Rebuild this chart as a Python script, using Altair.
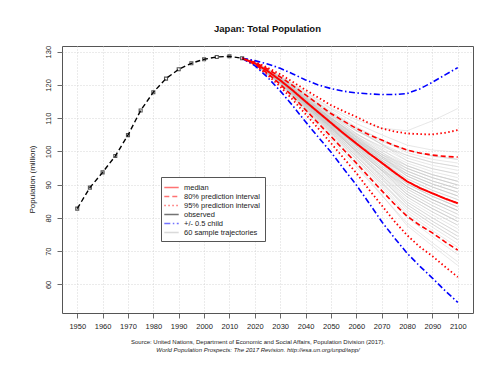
import altair as alt
import pandas as pd

FONT = "Liberation Sans"

# ---------------- data ----------------
obs_years = [1950, 1955, 1960, 1965, 1970, 1975, 1980, 1985, 1990, 1995, 2000, 2005, 2010, 2015]
observed = [82.8, 89.1, 93.7, 98.6, 104.9, 112.3, 117.8, 121.9, 124.7, 126.5, 127.7, 128.4, 128.6, 128.0]

proj_years = [2015, 2020, 2025, 2030, 2035, 2040, 2045, 2050, 2055, 2060,
              2065, 2070, 2075, 2080, 2085, 2090, 2095, 2100]
median = [128.0, 126.5, 124.2, 121.4, 118.3, 115.0, 111.8, 108.6, 105.4, 102.4,
          99.4, 96.6, 93.7, 91.0, 89.0, 87.4, 85.8, 84.4]
upper80 = [128.0, 126.8, 124.8, 122.4, 119.8, 117.0, 114.2, 111.4, 109.1, 106.9,
           105.0, 103.4, 101.8, 100.4, 99.5, 98.9, 98.5, 98.3]
lower80 = [128.0, 126.2, 123.5, 120.2, 116.5, 112.5, 108.5, 104.5, 100.5, 96.5,
           92.3, 88.2, 84.2, 80.5, 77.8, 75.5, 72.8, 70.3]
upper95 = [128.0, 127.0, 125.2, 123.2, 120.9, 118.5, 116.2, 113.9, 112.1, 110.4,
           108.5, 106.9, 106.0, 105.4, 105.2, 105.1, 105.6, 106.4]
lower95 = [128.0, 126.0, 123.0, 119.5, 115.5, 111.2, 106.9, 102.5, 98.0, 93.5,
           88.5, 83.8, 79.0, 74.8, 71.3, 68.5, 65.3, 62.2]
child_up = [128.0, 127.3, 126.3, 125.0, 123.3, 121.5, 120.0, 118.9, 118.1, 117.6,
            117.3, 117.1, 117.1, 117.4, 118.8, 120.8, 123.0, 125.2]
child_low = [128.0, 125.8, 122.3, 118.2, 113.7, 108.9, 104.3, 99.8, 94.8, 89.9,
             84.5, 78.9, 74.0, 69.4, 65.5, 61.9, 58.1, 54.6]

traj_years = [2020, 2030, 2040, 2050, 2060, 2070, 2080, 2090, 2100]
trajectories = [
    [126.1, 120.0, 111.8, 103.7, 95.3, 86.8, 78.5, 72.5, 66.8],
    [126.1, 120.2, 112.3, 104.6, 96.0, 87.0, 77.7, 71.6, 65.7],
    [126.2, 120.4, 112.7, 105.1, 96.9, 88.5, 80.1, 74.4, 69.0],
    [126.2, 120.4, 112.8, 105.4, 97.8, 90.3, 83.2, 78.1, 73.4],
    [126.3, 120.6, 113.2, 105.9, 98.0, 89.9, 81.6, 76.2, 71.2],
    [126.3, 120.6, 113.2, 105.9, 98.6, 91.5, 84.8, 80.0, 75.6],
    [126.3, 120.7, 113.4, 106.2, 98.6, 90.9, 83.2, 78.1, 73.4],
    [126.3, 120.8, 113.6, 106.4, 99.4, 92.6, 86.3, 81.8, 77.8],
    [126.3, 120.8, 113.7, 106.7, 99.2, 91.7, 84.0, 79.0, 74.5],
    [126.4, 120.9, 113.9, 107.0, 100.1, 93.5, 87.1, 82.8, 78.9],
    [126.4, 120.9, 113.9, 107.0, 99.8, 92.6, 85.5, 80.9, 76.7],
    [126.4, 121.0, 114.1, 107.2, 100.6, 94.4, 88.7, 84.6, 81.1],
    [126.4, 121.0, 114.1, 107.2, 100.2, 93.2, 86.3, 81.8, 77.8],
    [126.4, 121.1, 114.3, 107.5, 100.8, 94.2, 87.9, 83.7, 80.0],
    [126.4, 121.1, 114.3, 107.5, 101.0, 95.0, 89.4, 85.5, 82.2],
    [126.4, 121.2, 114.5, 107.8, 100.9, 94.1, 87.1, 82.8, 78.9],
    [126.4, 121.2, 114.5, 107.8, 101.5, 95.6, 90.2, 86.5, 83.3],
    [126.5, 121.2, 114.6, 108.1, 101.5, 95.0, 88.7, 84.6, 81.1],
    [126.5, 121.2, 114.6, 108.1, 101.9, 96.2, 91.0, 87.4, 84.4],
    [126.5, 121.3, 114.8, 108.3, 101.9, 95.6, 89.4, 85.5, 82.2],
    [126.5, 121.3, 114.8, 108.3, 102.3, 96.8, 91.8, 88.3, 85.5],
    [126.5, 121.4, 115.0, 108.6, 102.3, 96.2, 90.2, 86.5, 83.3],
    [126.5, 121.4, 115.0, 108.6, 102.7, 97.4, 92.6, 89.3, 86.6],
    [126.5, 121.5, 115.2, 108.9, 102.7, 96.8, 91.0, 87.4, 84.4],
    [126.5, 121.5, 115.2, 108.9, 103.1, 98.0, 93.3, 90.2, 87.7],
    [126.6, 121.6, 115.4, 109.1, 103.1, 97.4, 91.8, 88.3, 85.5],
    [126.6, 121.6, 115.4, 109.1, 103.5, 98.5, 94.1, 91.1, 88.8],
    [126.6, 121.6, 115.5, 109.4, 103.5, 98.0, 92.6, 89.3, 86.6],
    [126.6, 121.6, 115.5, 109.4, 103.9, 99.1, 94.9, 92.1, 89.9],
    [126.6, 121.7, 115.7, 109.7, 103.9, 98.5, 93.3, 90.2, 87.7],
    [126.6, 121.7, 115.7, 109.7, 104.3, 99.7, 95.7, 93.0, 91.0],
    [126.6, 121.8, 115.9, 110.0, 104.3, 99.1, 94.1, 91.1, 88.8],
    [126.6, 121.8, 115.9, 110.0, 104.7, 100.3, 96.5, 93.9, 92.1],
    [126.7, 121.9, 116.1, 110.2, 104.7, 99.7, 94.9, 92.1, 89.9],
    [126.7, 122.0, 116.3, 110.5, 105.4, 101.1, 97.2, 94.8, 93.2],
    [126.7, 122.0, 116.4, 110.8, 105.4, 100.6, 95.7, 93.0, 91.0],
    [126.7, 122.1, 116.6, 111.0, 106.2, 102.3, 98.8, 96.7, 95.4],
    [126.8, 122.2, 116.8, 111.3, 106.4, 102.1, 98.0, 95.8, 94.3],
    [126.8, 122.3, 117.0, 111.6, 107.0, 103.5, 100.4, 98.6, 97.6],
    [126.8, 122.4, 117.3, 112.1, 107.4, 103.5, 99.6, 97.6, 96.5],
    [126.9, 122.6, 117.7, 112.7, 108.4, 105.0, 101.9, 100.4, 99.8],
    [126.9, 122.8, 118.0, 113.0, 109.5, 107.0, 106.2, 109.2, 112.9],
    [126.3, 120.8, 113.6, 106.4, 98.7, 90.7, 82.4, 77.2, 72.3],
    [126.4, 121.0, 114.1, 107.2, 99.8, 92.1, 84.0, 79.0, 74.5],
    [126.5, 121.4, 115.0, 108.6, 101.9, 95.0, 87.9, 83.7, 80.0],
    [126.6, 121.6, 115.5, 109.4, 103.1, 96.8, 90.2, 86.5, 83.3],
    [126.7, 121.9, 116.1, 110.2, 104.3, 98.5, 92.6, 89.3, 86.6],
    [126.5, 121.2, 114.6, 108.1, 102.4, 97.8, 94.1, 91.1, 88.8],
    [126.3, 120.8, 113.7, 106.7, 100.2, 94.4, 89.4, 85.5, 82.2],
    [126.5, 121.5, 115.2, 108.9, 103.5, 99.1, 95.7, 93.0, 91.0],
    [126.6, 121.8, 115.9, 110.0, 105.1, 101.5, 98.8, 96.7, 95.4],
    [126.4, 121.1, 114.3, 107.5, 100.2, 92.6, 84.8, 80.0, 75.6],
    [126.6, 121.6, 115.4, 109.1, 102.7, 96.2, 89.4, 85.5, 82.2],
    [126.5, 121.3, 114.8, 108.3, 101.5, 94.4, 87.1, 82.8, 78.9],
    [126.7, 122.0, 116.4, 110.8, 106.2, 102.9, 100.4, 98.6, 97.6],
    [126.2, 120.5, 113.0, 105.6, 97.6, 89.3, 80.9, 75.3, 70.1],
    [126.5, 121.4, 115.0, 108.6, 103.1, 98.5, 94.9, 92.1, 89.9],
    [126.8, 122.4, 117.2, 111.8, 106.8, 102.1, 97.2, 94.8, 93.2],
    [126.4, 121.2, 114.5, 107.8, 102.0, 97.2, 93.3, 90.2, 87.7],
    [126.6, 121.7, 115.7, 109.7, 103.5, 97.4, 91.0, 87.4, 84.4],
]

series_labels = ["median", "80% prediction interval", "95% prediction interval",
                 "observed", "+/- 0.5 child", "60 sample trajectories"]
series_colors = ["#ff0000", "#ff0000", "#ff0000", "#000000", "#0000ff", "#bdbdbd"]
series_dashes = [[1, 0], [5, 3], [1.5, 2.5], [1, 0], [6, 2.5, 1.5, 2.5], [1, 0]]

title_text = "Japan: Total Population"
source_line1 = "Source: United Nations, Department of Economic and Social Affairs, Population Division (2017)."
source_line2 = "World Population Prospects: The 2017 Revision. http://esa.un.org/unpd/wpp/"

# ---------------- tables ----------------
def proj_frame(series, parts):
    rows = []
    for part, vals in parts.items():
        for yr, v in zip(proj_years, vals):
            rows.append({"year": yr, "value": v, "series": series, "part": part})
    return pd.DataFrame(rows)

df_obs = pd.DataFrame({"year": obs_years, "value": observed, "series": "observed"})
df_med = proj_frame("median", {"m": median})
df_80 = proj_frame("80% prediction interval", {"u": upper80, "l": lower80})
df_95 = proj_frame("95% prediction interval", {"u": upper95, "l": lower95})
df_ch = proj_frame("+/- 0.5 child", {"u": child_up, "l": child_low})

traj_rows = []
for i, tr in enumerate(trajectories):
    traj_rows.append({"year": obs_years[-1], "value": observed[-1],
                      "series": "60 sample trajectories", "part": i})
    for yr, v in zip(traj_years, tr):
        traj_rows.append({"year": yr, "value": v,
                          "series": "60 sample trajectories", "part": i})
df_traj = pd.DataFrame(traj_rows)

# ---------------- encodings ----------------
X = alt.X("year:Q",
          scale=alt.Scale(domain=[1944, 2106], nice=False, zero=False),
          axis=alt.Axis(values=list(range(1950, 2101, 10)), format="d", title=None,
                        labelPadding=4))
Y = alt.Y("value:Q",
          scale=alt.Scale(domain=[51.4, 131.7], nice=False, zero=False),
          axis=alt.Axis(values=list(range(60, 131, 10)), title="Population (million)",
                        labelAngle=270, labelAlign="center", labelBaseline="bottom",
                        labelPadding=5, titleX=-30, titleY=133, titleAngle=270,
                        titleAlign="center", titleBaseline="middle",
                        titleFontSize=8, titleFontWeight="normal", titleFont=FONT,
                        titleColor="#222"))

leg = alt.Legend(title=None, orient="none", legendX=99, legendY=131,
                 fillColor="white", strokeColor="#555555", padding=5,
                 symbolType="M-1.6,0H1.6", symbolSize=81, symbolStrokeWidth=1.6,
                 labelFontSize=7.5, labelFont=FONT, labelColor="#222",
                 rowPadding=0, labelOffset=7)
COLOR = alt.Color("series:N", scale=alt.Scale(domain=series_labels, range=series_colors), legend=leg)
DASH = alt.StrokeDash("series:N", scale=alt.Scale(domain=series_labels, range=series_dashes), legend=leg)

traj = alt.Chart(df_traj).mark_line(strokeWidth=0.7, opacity=0.55).encode(
    x=X, y=Y, detail="part:N", color=COLOR, strokeDash=DASH)
pi80 = alt.Chart(df_80).mark_line(strokeWidth=1.6).encode(
    x=X, y=Y, detail="part:N", color=COLOR, strokeDash=DASH)
pi95 = alt.Chart(df_95).mark_line(strokeWidth=1.8).encode(
    x=X, y=Y, detail="part:N", color=COLOR, strokeDash=DASH)
child = alt.Chart(df_ch).mark_line(strokeWidth=1.6).encode(
    x=X, y=Y, detail="part:N", color=COLOR, strokeDash=DASH)
med = alt.Chart(df_med).mark_line(strokeWidth=2).encode(
    x=X, y=Y, color=COLOR, strokeDash=DASH)
obs_line = alt.Chart(df_obs).mark_line(strokeWidth=1.4, strokeDash=[5, 3]).encode(
    x=X, y=Y, color=COLOR)
obs_pts = alt.Chart(df_obs).mark_point(shape="square", size=9, filled=False,
                                       color="#111111", strokeWidth=1.1).encode(x=X, y=Y)

src = pd.DataFrame({"l1": [source_line1], "l2": [source_line2]})
txt1 = alt.Chart(src).mark_text(font=FONT, fontSize=6, color="#222", align="center",
                                baseline="middle").encode(
    text="l1:N", x=alt.value(196), y=alt.value(296))
txt2 = alt.Chart(src).mark_text(font=FONT, fontSize=6, color="#222", align="center",
                                baseline="middle", fontStyle="italic").encode(
    text="l2:N", x=alt.value(196), y=alt.value(303.5))

chart = alt.layer(traj, pi80, pi95, child, med, obs_line, obs_pts, txt1, txt2).properties(
    width=411, height=267,
    title=alt.TitleParams(title_text, font=FONT, fontSize=9.5, fontWeight="bold",
                          anchor="middle", offset=12, color="#111"),
    autosize=alt.AutoSizeParams(type="none"),
    padding={"left": 54, "top": 38, "right": 10, "bottom": 56},
).configure_view(
    stroke="#555555", strokeWidth=1
).configure_axis(
    grid=True, gridColor="#cccccc", gridDash=[1, 2], gridWidth=0.8,
    domain=False, tickColor="#444444", tickSize=5, tickWidth=0.8,
    labelFont=FONT, labelFontSize=7.5, labelColor="#222222"
)

chart.save("out.html", embed_options={"renderer": "svg", "actions": False})
